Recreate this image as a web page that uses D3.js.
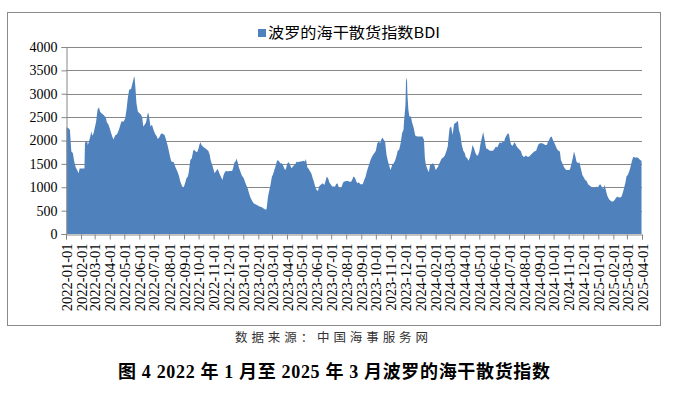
<!DOCTYPE html>
<html><head><meta charset="utf-8">
<script src="https://cdn.jsdelivr.net/npm/d3@7"></script>
<style>body{margin:0;background:#fff}svg{display:block}</style>
</head><body>
<svg id="chart" width="674" height="395"></svg>
<script>
// ---- data ----
const seriesName = "波罗的海干散货指数BDI";
const yTicks = [0, 500, 1000, 1500, 2000, 2500, 3000, 3500, 4000];
const monthLabels = [];
for (let yr = 2022; yr <= 2025; yr++) for (let m = 1; m <= 12; m++) {
  if (yr === 2025 && m > 4) break;
  monthLabels.push(yr + "-" + String(m).padStart(2, "0") + "-01");
}

const days2022 = ["01-02","01-06","01-09","01-12","01-15","01-18","01-21","01-24","01-27","01-29",
"02-01","02-04","02-08","02-09","02-11","02-14","02-15","02-18","02-20","02-22","02-24","02-27",
"03-01","03-04","03-07","03-10","03-12","03-15","03-19","03-24","03-26","03-29",
"04-01","04-04","04-07","04-09","04-12","04-16","04-20","04-23","04-25","04-30",
"05-03","05-06","05-08","05-11","05-15","05-18","05-21","05-22","05-24","05-26","05-29",
"06-01","06-04","06-07","06-09","06-12","06-15","06-18","06-20","06-22","06-24","06-27",
"07-01","07-04","07-07","07-09","07-12","07-15","07-18","07-20","07-23","07-26","07-29",
"08-01","08-04","08-06","08-11","08-13","08-16","08-19","08-22","08-24","08-27","08-30",
"09-01","09-04","09-06","09-09","09-11","09-14","09-17","09-20","09-22","09-25","09-28",
"10-01","10-03","10-05","10-07","10-10","10-12","10-15","10-18","10-21","10-24","10-26","10-29",
"11-01","11-03","11-06","11-09","11-11","11-14","11-17","11-19","11-22","11-25","11-28",
"12-01","12-03","12-06","12-09","12-11","12-14","12-17","12-18","12-21","12-23","12-26","12-29"];
const bdi2022 = [2285,2260,2230,1764,1730,1550,1420,1370,1300,1400,
1400,1400,1400,1940,1980,1960,1900,2010,2080,2200,2100,2160,
2260,2400,2660,2710,2620,2585,2550,2490,2390,2350,
2260,2155,2065,2020,2105,2135,2230,2335,2405,2405,
2480,2690,2890,3085,3100,3230,3355,3369,3120,2800,2620,
2585,2560,2490,2300,2335,2390,2570,2585,2440,2300,2335,
2205,2135,2085,2030,2065,2135,2155,2135,2120,2015,1905,
1765,1620,1550,1535,1465,1390,1320,1230,1135,1050,990,
1015,1120,1190,1230,1335,1585,1620,1780,1800,1765,1750,
1835,1920,1965,1905,1870,1850,1835,1800,1780,1690,1565,1480,
1370,1300,1350,1390,1350,1265,1205,1155,1280,1335,1350,
1335,1350,1350,1350,1405,1535,1565,1620,1515,1420,1335,1250];

const days2023 = ["01-02","01-04","01-07","01-10","01-12","01-15","01-18","01-21","01-23","01-26","01-29",
"02-01","02-03","02-06","02-09","02-11","02-14","02-16","02-18","02-21","02-23","02-26",
"03-01","03-03","03-06","03-09","03-11","03-13","03-16","03-18","03-21","03-24","03-27","03-29",
"04-02","04-05","04-08","04-10","04-13","04-15","04-18","04-21","04-23","04-28",
"05-01","05-04","05-08","05-10","05-13","05-16","05-18","05-21","05-24","05-26","05-29",
"06-01","06-04","06-06","06-09","06-11","06-14","06-17","06-19","06-22","06-25","06-27",
"07-01","07-03","07-06","07-09","07-11","07-14","07-17","07-19","07-22","07-25","07-27",
"08-01","08-04","08-08","08-11","08-13","08-16","08-19","08-22","08-24","08-27","08-30",
"09-02","09-04","09-07","09-10","09-12","09-15","09-18","09-20","09-23","09-26","09-28",
"10-01","10-04","10-07","10-10","10-12","10-15","10-17","10-20","10-23","10-26","10-28","10-31",
"11-01","11-04","11-07","11-10","11-13","11-15","11-18","11-21","11-24","11-27","11-28",
"12-01","12-02","12-04","12-05","12-07","12-09","12-12","12-15","12-18","12-21","12-25","12-27"];
const bdi2023 = [1190,1135,1050,980,905,800,730,680,655,635,620,
605,590,585,565,550,535,520,535,800,905,1050,
1230,1265,1370,1465,1550,1585,1550,1515,1515,1465,1390,1370,
1515,1535,1465,1405,1440,1465,1490,1550,1535,1550,
1550,1565,1550,1605,1420,1390,1350,1300,1190,1135,1015,
940,920,1015,1050,1065,1085,1050,1120,1230,1180,1105,
1050,1015,1015,1015,1065,1085,990,980,990,1085,1120,
1135,1135,1120,1120,1155,1230,1205,1120,1085,1105,1065,
1065,1065,1155,1230,1320,1420,1515,1585,1655,1705,1730,
1780,1940,1980,1940,2015,2065,2015,1980,1690,1550,1480,1370,
1390,1490,1515,1585,1690,1780,1800,1940,2155,2230,2405,
2765,3265,3346,2980,2655,2515,2515,2370,2265,2105,2085,2085];

const days2024 = ["01-01","01-05","01-08","01-10","01-12","01-15","01-18","01-21","01-23","01-26","01-29",
"02-01","02-03","02-06","02-09","02-12","02-14","02-17","02-20","02-23","02-26","02-28",
"03-01","03-04","03-07","03-10","03-12","03-15","03-18","03-20","03-23","03-26","03-29",
"04-01","04-03","04-06","04-09","04-12","04-15","04-17","04-20","04-23","04-26","04-28",
"05-01","05-03","05-06","05-09","05-12","05-15","05-18","05-20","05-23","05-26","05-29","05-31",
"06-02","06-04","06-07","06-10","06-12","06-15","06-18","06-21","06-23","06-26","06-29",
"07-01","07-04","07-06","07-09","07-12","07-15","07-17","07-20","07-23","07-26","07-28","07-31",
"08-02","08-05","08-08","08-11","08-13","08-16","08-19","08-22","08-26","08-29","08-31",
"09-03","09-06","09-08","09-11","09-14","09-17","09-19","09-22","09-24","09-27","09-30",
"10-03","10-05","10-08","10-11","10-14","10-16","10-19","10-22","10-25","10-27","10-30",
"11-02","11-04","11-07","11-10","11-12","11-15","11-17","11-20","11-23","11-26","11-29",
"12-03","12-05","12-08","12-11","12-14","12-17","12-19","12-22","12-25","12-28","12-31"];
const bdi2024 = [2085,2085,2015,1620,1480,1390,1320,1490,1480,1515,1490,
1370,1390,1440,1515,1585,1620,1635,1680,1765,1870,2085,
2265,2300,2120,2350,2370,2390,2420,2230,2120,1905,1780,
1730,1655,1620,1565,1655,1780,1905,1835,1730,1680,1680,
1765,1905,2050,2180,2015,1835,1820,1800,1780,1780,1780,1800,
1835,1870,1850,1920,1965,1940,1980,1965,2050,2105,2155,
2135,1965,1905,1890,1965,1920,1870,1835,1800,1765,1690,1655,
1655,1680,1655,1655,1670,1705,1730,1765,1780,1870,1920,
1940,1940,1940,1920,1905,1905,1965,2015,2065,2085,2000,
1940,1890,1820,1780,1765,1585,1515,1440,1390,1370,1370,
1370,1390,1515,1655,1765,1655,1550,1515,1535,1405,1265,
1190,1155,1135,1065,1035,1015,990,990,990,1015,990];

const days2025 = ["01-03","01-05","01-08","01-11","01-14","01-17","01-19","01-22","01-24","01-27","01-30",
"02-02","02-04","02-07","02-10","02-12","02-15","02-18","02-21","02-23","02-26","02-28",
"03-03","03-06","03-08","03-11","03-14","03-17","03-20","03-22","03-25","03-28","03-31"];
const bdi2025 = [1050,1065,1015,965,1050,920,835,765,730,705,690,
705,730,780,800,780,780,800,905,980,1105,1230,
1265,1350,1420,1550,1655,1635,1635,1635,1620,1585,1565];

// ---- build ----
const parse = d3.timeParse("%Y-%m-%d");
const data = [];
[[2022, days2022, bdi2022], [2023, days2023, bdi2023], [2024, days2024, bdi2024], [2025, days2025, bdi2025]]
  .forEach(([yr, ds, vs]) => ds.forEach((d, i) => data.push({ date: parse(yr + "-" + d), v: vs[i] })));

const svg = d3.select("#chart");
const L = 66, R = 642, T = 47, B = 234;
const gridColor = "#878787";
const fill = "#4F81BD";

// outer frame
svg.append("rect").attr("x", 7.5).attr("y", 12.5).attr("width", 653).attr("height", 313)
  .attr("fill", "none").attr("stroke", "#8a8a8a").attr("stroke-width", 1);

const x = d3.scaleTime().domain([parse(monthLabels[0]), parse(monthLabels[monthLabels.length - 1])]).range([L, R]);
const y = d3.scaleLinear().domain([0, 4000]).range([B, T]);

// gridlines
svg.append("g").selectAll("line").data(yTicks.filter(t => t > 0)).join("line")
  .attr("x1", L).attr("x2", R)
  .attr("y1", d => Math.round(y(d)) + 0.5).attr("y2", d => Math.round(y(d)) + 0.5)
  .attr("stroke", gridColor).attr("stroke-width", 1);

// area
const area = d3.area().x(d => x(d.date)).y0(y(0)).y1(d => y(d.v));
svg.append("path").datum(data).attr("d", area).attr("fill", fill);

// y axis
const yAxis = svg.append("g").attr("transform", `translate(${L + 0.5},0)`)
  .call(d3.axisLeft(y).tickValues(yTicks).tickSize(5).tickPadding(4).tickFormat(d3.format("d")));
yAxis.select(".domain").attr("stroke", gridColor);
yAxis.selectAll(".tick line").attr("stroke", gridColor);
yAxis.selectAll("text").attr("font-family", "'Liberation Serif', 'Times New Roman', serif")
  .attr("font-size", 14).attr("fill", "#000");

// x axis
const xAxis = svg.append("g").attr("transform", `translate(0,${B + 0.5})`)
  .call(d3.axisBottom(x).tickValues(monthLabels.map(parse)).tickSize(5).tickFormat(d3.timeFormat("%Y-%m-%d")));
xAxis.select(".domain").attr("stroke", gridColor);
xAxis.selectAll(".tick line").attr("stroke", gridColor);
xAxis.selectAll("text")
  .attr("font-family", "'Liberation Serif', 'Times New Roman', serif").attr("font-size", 14.5).attr("fill", "#000")
  .attr("text-anchor", "end").attr("dy", "0.35em")
  .attr("transform", "translate(0,9) rotate(-90)").attr("x", 0).attr("y", 0);

// legend
const lg = svg.append("g");
lg.append("rect").attr("x", 258).attr("y", 29).attr("width", 8).attr("height", 8).attr("fill", fill);
lg.append("text").attr("x", 268).attr("y", 33).attr("dy", "0.35em")
  .attr("font-family", "'Noto Sans CJK SC', sans-serif").attr("font-size", 15).attr("fill", "#000")
  .attr("textLength", 172).attr("lengthAdjust", "spacingAndGlyphs")
  .text(seriesName);

// source
svg.append("text").attr("x", 235).attr("y", 338).attr("dy", "0.35em")
  .attr("font-family", "'Noto Sans CJK SC', sans-serif").attr("font-size", 12.5).attr("fill", "#333")
  .attr("textLength", 193).attr("lengthAdjust", "spacing")
  .text("数据来源：中国海事服务网");

// title
svg.append("text").attr("x", 118).attr("y", 372).attr("dy", "0.35em")
  .attr("font-family", "'Liberation Serif', 'Noto Sans CJK SC', serif").attr("font-weight", "bold")
  .attr("font-size", 18).attr("fill", "#000")
  .attr("textLength", 432).attr("lengthAdjust", "spacing")
  .text("图 4 2022 年 1 月至 2025 年 3 月波罗的海干散货指数");
</script>
</body></html>
